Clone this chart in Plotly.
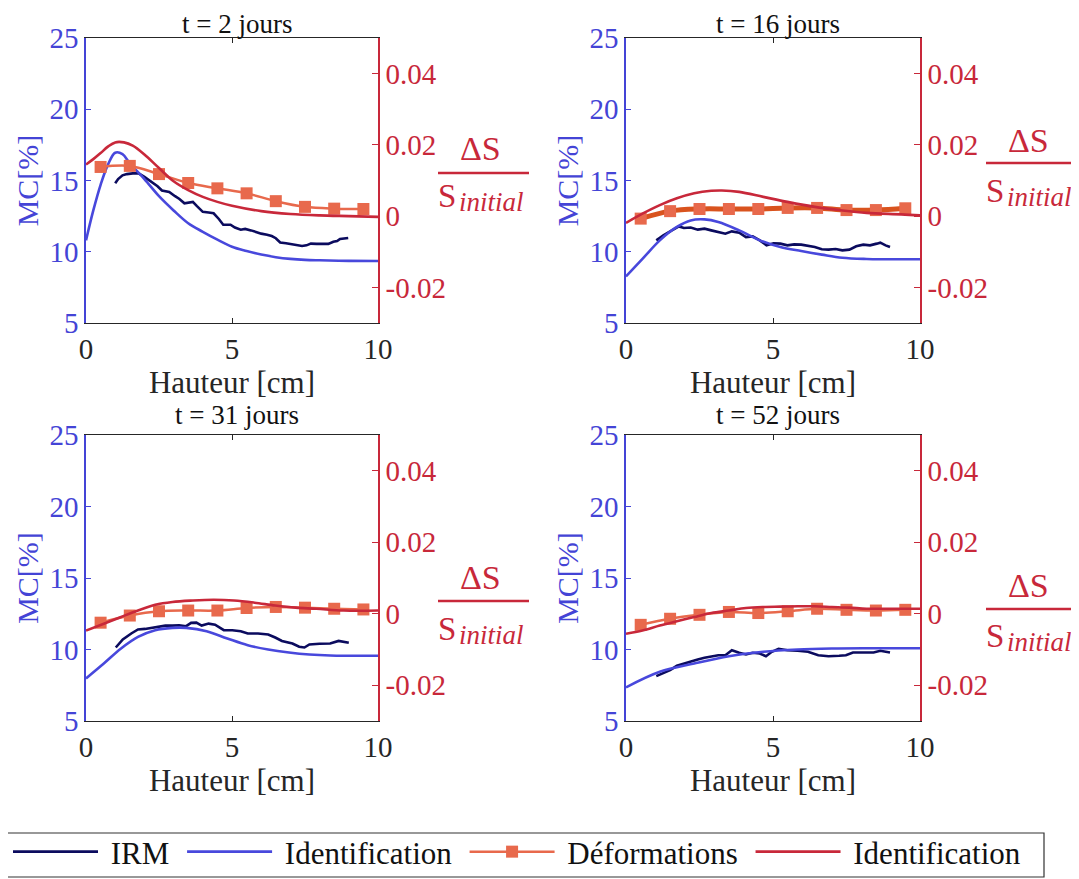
import plotly.graph_objects as go

FONT = "Liberation Serif"
C_IRM = "#0b0b5e"
C_IDB = "#4848dc"
C_DEF = "#e8694c"
C_DEF2 = "#d9531e"
C_IDR = "#c8283a"
C_AXL = "#4444d6"
C_AXR = "#c8283a"
C_AX = "#262626"

titles = ["t\u00a0=\u00a02 jours", "t\u00a0=\u00a016 jours", "t\u00a0=\u00a031 jours", "t\u00a0=\u00a052 jours"]

# ---------- Déformations (markers, right axis) ----------
h_def = [0.5, 1.5, 2.5, 3.5, 4.5, 5.5, 6.5, 7.5, 8.5, 9.5]
def_1 = [0.0138, 0.0141, 0.0118, 0.0093, 0.0078, 0.0064, 0.0042, 0.0026, 0.0021, 0.0020]
def_2 = [-0.0007, 0.0014, 0.0020, 0.0020, 0.0020, 0.0023, 0.0023, 0.0017, 0.0017, 0.0022]
def_3 = [-0.0025, -0.0005, 0.0007, 0.0009, 0.0009, 0.0016, 0.0019, 0.0017, 0.0014, 0.0012]
def_4 = [-0.0031, -0.0014, -0.0003, 0.0005, 0.0002, 0.0007, 0.0014, 0.0011, 0.0009, 0.0011]

# ---------- Identification (red, right axis) ----------
hr_1 = [0, 0.25, 0.5, 0.75, 1.0, 1.3, 1.6, 2.0, 2.5, 3.0, 3.5, 4.0, 4.5, 5.0, 6.0, 7.0, 8.0, 9.0, 10.0]
r_1 = [0.0145, 0.0160, 0.0177, 0.0195, 0.0207, 0.0207, 0.0198, 0.0173, 0.0135, 0.0098, 0.0073,
       0.0054, 0.0040, 0.0029, 0.0014, 0.0006, 0.0002, 0.0000, -0.0002]
hr_2 = [0, 0.56, 1.15, 1.73, 2.32, 2.9, 3.26, 3.85, 4.67, 5.49, 6.42, 7.25, 8.18, 9.36, 10.0]
r_2 = [-0.0019, 0.0007, 0.0031, 0.0050, 0.0064, 0.0071, 0.0072, 0.0068, 0.0054, 0.0040, 0.0026,
       0.0017, 0.0009, 0.0005, 0.0002]
hr_3 = [0, 0.61, 1.2, 1.78, 2.37, 2.96, 3.66, 4.37, 5.07, 5.77, 6.48, 7.18, 7.89, 8.83, 10.0]
r_3 = [-0.0047, -0.0028, -0.0009, 0.0009, 0.0025, 0.0033, 0.0037, 0.0039, 0.0037, 0.0031, 0.0023,
       0.0017, 0.0014, 0.0009, 0.0009]
hr_4 = [0, 0.56, 1.15, 1.73, 2.32, 2.9, 3.5, 4.08, 4.67, 5.25, 5.84, 6.42, 7.0, 7.6, 8.18, 8.77, 10.0]
r_4 = [-0.0056, -0.0047, -0.0033, -0.0021, -0.0009, 0.0002, 0.0009, 0.0016, 0.0019, 0.0020, 0.0021,
       0.0021, 0.0019, 0.0017, 0.0014, 0.0014, 0.0014]

# ---------- Identification (blue, left axis) ----------
hb_1 = [0, 0.25, 0.5, 0.75, 1.0, 1.25, 1.5, 2.0, 2.5, 3.0, 3.5, 4.0, 4.5, 5.0, 5.5, 6.0, 6.5, 7.0,
        7.5, 8.0, 9.0, 10.0]
b_1 = [10.8, 12.9, 14.7, 16.1, 16.95, 16.85, 16.2, 15.1, 13.9, 12.9, 12.0, 11.4, 10.85, 10.35, 10.05,
       9.8, 9.62, 9.5, 9.43, 9.4, 9.36, 9.35]
hb_2 = [0, 0.56, 1.15, 1.73, 2.2, 2.67, 3.14, 3.85, 4.55, 5.25, 5.96, 6.66, 7.36, 8.18, 8.77, 10.0]
b_2 = [8.27, 9.5, 10.8, 11.74, 12.2, 12.27, 12.09, 11.5, 10.8, 10.33, 10.05, 9.8, 9.58, 9.49, 9.47, 9.47]
hb_3 = [0, 0.61, 1.2, 1.78, 2.37, 2.96, 3.43, 4.13, 4.84, 5.54, 6.24, 6.95, 7.65, 8.36, 10.0]
b_3 = [7.98, 9.02, 10.07, 10.88, 11.35, 11.51, 11.51, 11.28, 10.77, 10.3, 10.0, 9.79, 9.65, 9.58, 9.56]
hb_4 = [0, 1.15, 2.32, 3.5, 4.67, 5.84, 7.0, 8.18, 10.0]
b_4 = [7.35, 8.44, 9.02, 9.53, 9.84, 10.0, 10.07, 10.09, 10.09]

# ---------- IRM (dark navy, left axis) ----------
hi_1 = [1.0, 1.1, 1.25, 1.4, 1.6, 1.8, 2.0, 2.25, 2.45, 2.6, 2.85, 3.05, 3.2, 3.37, 3.5, 3.66, 3.8,
        4.0, 4.2, 4.37, 4.55, 4.7, 4.95, 5.1, 5.3, 5.45, 5.65, 5.85, 6.0, 6.2, 6.36, 6.5, 6.65, 6.85,
        7.07, 7.25, 7.4, 7.55, 7.7, 7.9, 8.1, 8.3, 8.47, 8.6, 8.7, 8.85, 8.98]
i_1 = [14.8, 15.1, 15.36, 15.45, 15.5, 15.5, 15.25, 14.9, 14.6, 14.3, 14.2, 13.9, 13.7, 13.4, 13.45,
       13.5, 13.2, 12.8, 12.75, 12.7, 12.3, 11.9, 11.9, 11.7, 11.55, 11.6, 11.5, 11.35, 11.27, 11.2,
       11.1, 10.95, 10.65, 10.6, 10.5, 10.45, 10.4, 10.45, 10.57, 10.55, 10.57, 10.55, 10.7, 10.75,
       10.9, 10.92, 10.97]
hi_2 = [1.03, 1.27, 1.56, 1.8, 1.97, 2.2, 2.44, 2.67, 2.9, 3.14, 3.38, 3.6, 3.85, 4.08, 4.31, 4.55,
        4.78, 5.02, 5.25, 5.49, 5.72, 5.96, 6.19, 6.42, 6.66, 6.89, 7.13, 7.36, 7.6, 7.83, 8.07, 8.3,
        8.53, 8.65, 8.83, 8.98]
i_2 = [10.8, 11.15, 11.5, 11.78, 11.67, 11.7, 11.55, 11.62, 11.5, 11.39, 11.27, 11.43, 11.34, 11.03,
       11.08, 10.8, 10.45, 10.6, 10.57, 10.45, 10.52, 10.5, 10.4, 10.33, 10.17, 10.15, 10.19, 10.1,
       10.15, 10.38, 10.5, 10.45, 10.57, 10.64, 10.45, 10.33]
hi_3 = [1.02, 1.26, 1.55, 1.78, 2.02, 2.25, 2.49, 2.72, 2.96, 3.19, 3.43, 3.6, 3.78, 3.96, 4.2, 4.42,
        4.72, 5.01, 5.3, 5.54, 5.89, 6.24, 6.48, 6.71, 7.07, 7.3, 7.48, 7.65, 8.0, 8.36, 8.65, 8.83, 9.0]
i_3 = [10.14, 10.7, 11.12, 11.4, 11.44, 11.51, 11.58, 11.67, 11.67, 11.7, 11.63, 11.86, 11.88, 11.67,
       11.81, 11.74, 11.35, 11.35, 11.28, 11.12, 11.12, 11.05, 10.84, 10.6, 10.42, 10.19, 10.14, 10.35,
       10.4, 10.42, 10.6, 10.51, 10.47]
hi_4 = [1.03, 1.27, 1.5, 1.73, 1.97, 2.2, 2.44, 2.67, 2.9, 3.14, 3.38, 3.6, 3.85, 4.08, 4.31, 4.55,
        4.76, 4.96, 5.19, 5.49, 5.84, 6.19, 6.54, 6.89, 7.25, 7.48, 7.72, 8.07, 8.42, 8.65, 8.98]
i_4 = [8.14, 8.37, 8.56, 8.86, 9.02, 9.14, 9.3, 9.42, 9.53, 9.6, 9.6, 9.95, 9.77, 9.65, 9.77, 9.72,
       9.53, 9.84, 10.05, 9.95, 9.91, 9.84, 9.6, 9.53, 9.56, 9.6, 9.79, 9.79, 9.79, 9.91, 9.79]

panels = [
    (hi_1, i_1, hb_1, b_1, def_1, hr_1, r_1),
    (hi_2, i_2, hb_2, b_2, def_2, hr_2, r_2),
    (hi_3, i_3, hb_3, b_3, def_3, hr_3, r_3),
    (hi_4, i_4, hb_4, b_4, def_4, hr_4, r_4),
]

W, H = 1079, 879
OFF = 8  # page body margin offset applied by the browser
# panel pixel boxes in page coordinates: (left, top, right, bottom)
boxes = [(86, 38, 378, 323), (626, 38, 920, 323), (86, 435, 378, 721), (626, 435, 920, 721)]


def px(x):
    return (x - OFF) / W


def py(y):
    return 1 - (y - OFF) / H


fig = go.Figure()
layout = {}
annotations = []
shapes = []

NB = "\u00a0"
names = [NB + "IRM" + NB, NB + "Identification" + NB, NB + "Déformations" + NB, NB + "Identification"]

for k, (hi, ii, hb, bb, dd, hr, rr) in enumerate(panels):
    n = k + 1
    xa = "x" if n == 1 else f"x{n}"
    ya = "y" if n == 1 else f"y{n}"
    yr = f"y{n + 4}"
    show = (k == 0)
    def_color = C_DEF2 if k == 1 else C_DEF
    def_width = 5 if k == 1 else 2.5
    fig.add_trace(go.Scatter(x=hi, y=ii, xaxis=xa, yaxis=ya, mode="lines", name=names[0],
                             line=dict(color=C_IRM, width=2.6), showlegend=show, legendrank=1))
    fig.add_trace(go.Scatter(x=hb, y=bb, xaxis=xa, yaxis=ya, mode="lines", name=names[1],
                             line=dict(color=C_IDB, width=2.6, shape="spline"), showlegend=show,
                             legendrank=2))
    fig.add_trace(go.Scatter(x=h_def, y=dd, xaxis=xa, yaxis=yr, mode="lines+markers",
                             name=names[2],
                             line=dict(color=def_color, width=def_width, shape="spline"),
                             marker=dict(symbol="square", size=12, color=C_DEF),
                             showlegend=show, legendrank=3))
    fig.add_trace(go.Scatter(x=hr, y=rr, xaxis=xa, yaxis=yr, mode="lines", name=names[3],
                             line=dict(color=C_IDR, width=2.6, shape="spline"), showlegend=show,
                             legendrank=4))

    l, t, r, b = boxes[k]
    xkey = "xaxis" if n == 1 else f"xaxis{n}"
    ykey = "yaxis" if n == 1 else f"yaxis{n}"
    layout[xkey] = dict(
        domain=[px(l), px(r)], anchor=ya, range=[0, 10], tickvals=[0, 5, 10],
        showline=True, linecolor=C_AX, linewidth=1.2, mirror="ticks", ticks="inside",
        ticklen=5, tickcolor=C_AX, showgrid=False, zeroline=False,
        tickfont=dict(family=FONT, size=29, color=C_AX),
        title=dict(text="Hauteur [cm]", font=dict(family=FONT, size=31, color=C_AX), standoff=0),
    )
    layout[ykey] = dict(
        domain=[py(b), py(t)], anchor=xa, range=[5, 25], tickvals=[5, 10, 15, 20, 25],
        showline=True, linecolor=C_AXL, linewidth=1.5, ticks="inside", ticklen=5,
        tickcolor=C_AXL, showgrid=False, zeroline=False,
        tickfont=dict(family=FONT, size=29, color=C_AXL),
        title=dict(text="MC[%]", font=dict(family=FONT, size=30, color=C_AXL), standoff=2),
    )
    layout[f"yaxis{n + 4}"] = dict(
        domain=[py(b), py(t)], anchor=xa, overlaying=ya, side="right", range=[-0.03, 0.05],
        tickvals=[-0.02, 0, 0.02, 0.04], ticktext=["-0.02", "0", "0.02", "0.04"],
        showline=True, linecolor=C_AXR, linewidth=1.5, ticks="inside", ticklen=6,
        tickcolor=C_AXR, showgrid=False, zeroline=False,
        tickfont=dict(family=FONT, size=29, color=C_AXR),
    )
    ty = 24 if k < 2 else 415
    annotations.append(dict(text=titles[k], x=px((l + r) / 2 + 5), y=py(ty), xref="paper",
                            yref="paper", showarrow=False, borderpad=0,
                            font=dict(family=FONT, size=27, color="#111111"),
                            xanchor="center", yanchor="middle"))

# right-axis fraction labels (dS / S_initial)
frac = [  # (line_x0, line_x1, line_y, dS_y, S_y)
    (438, 529, 173, 148, 196),
    (986, 1077, 163, 140, 191),
    (438, 529, 601, 577, 629),
    (986, 1077, 609, 585, 636),
]
for (x0, x1, ly, dy, sy) in frac:
    shapes.append(dict(type="line", xref="paper", yref="paper", x0=px(x0), x1=px(x1),
                       y0=py(ly), y1=py(ly), line=dict(color=C_IDR, width=2.5)))
    annotations.append(dict(text="ΔS", x=px((x0 + x1) / 2 - 3), y=py(dy), xref="paper", yref="paper",
                            showarrow=False, font=dict(family=FONT, size=34, color=C_IDR),
                            xanchor="center", yanchor="middle"))
    annotations.append(dict(text="S", x=px(x0 - 2), y=py(sy), xref="paper", yref="paper",
                            showarrow=False, font=dict(family=FONT, size=33, color=C_IDR),
                            xanchor="left", yanchor="middle"))
    annotations.append(dict(text="<i>initial</i>", x=px(x0 + 19), y=py(sy + 6), xref="paper",
                            yref="paper", showarrow=False,
                            font=dict(family=FONT, size=27, color=C_IDR),
                            xanchor="left", yanchor="middle"))

# legend frame
shapes.append(dict(type="rect", xref="paper", yref="paper", x0=px(5), x1=px(1044), y0=py(877),
                   y1=py(833), line=dict(color="#333333", width=1.2), fillcolor="rgba(0,0,0,0)"))

fig.update_layout(
    width=W, height=H, template="none",
    margin=dict(l=0, r=0, t=0, b=0),
    paper_bgcolor="white", plot_bgcolor="white",
    font=dict(family=FONT, size=28, color=C_AX),
    showlegend=True,
    legend=dict(orientation="h", x=px(8), y=py(825), xanchor="left", yanchor="top",
                font=dict(family=FONT, size=31, color="#111111"), itemwidth=85,
                bgcolor="rgba(0,0,0,0)", borderwidth=0, tracegroupgap=0),
    annotations=annotations,
    shapes=shapes,
    **layout,
)

fig.write_html("out.html")
